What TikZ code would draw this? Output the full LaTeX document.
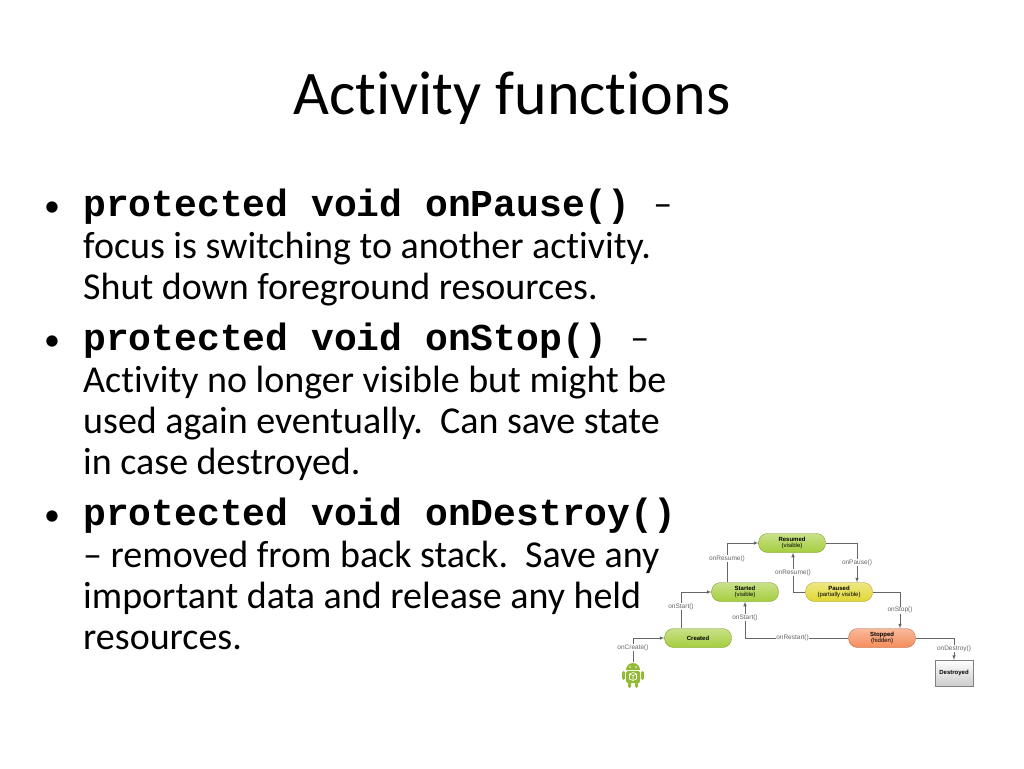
\documentclass[tikz,border=0pt]{standalone}
\usepackage{fontspec}
\setmainfont[Ligatures=NoCommon]{Carlito}
\newfontfamily\monof{Liberation Mono}
\newfontfamily\smallsans{Liberation Sans}
\begin{document}
\begin{tikzpicture}[x=1pt,y=-1pt,
  txt/.style={anchor=base west,inner sep=0pt,font=\fontsize{38}{38}\selectfont},
  code/.style={anchor=base west,inner sep=0pt,font=\fontsize{38}{38}\selectfont\monof\bfseries},
  st/.style={rounded corners=9pt,minimum width=67pt,minimum height=19pt,inner sep=0pt,align=center,draw=#1!70!black,line width=0.3pt,top color=#1!60!white,bottom color=#1,font=\smallsans\fontsize{6}{6.5}\selectfont},
  lab/.style={font=\smallsans\fontsize{6.5}{7}\selectfont,text=gray!80!black,fill=white,inner sep=0.5pt},
  ar/.style={draw=gray!80!black,line width=0.6pt,-latex}]
\useasboundingbox (0,0) rectangle (1024,768);
\definecolor{gr}{RGB}{165,205,60}
\definecolor{ye}{RGB}{225,215,50}
\definecolor{orr}{RGB}{245,140,90}
\node[anchor=center,font=\fontsize{62}{62}\selectfont] (title) at (512,98) {Activity functions};
\node[txt,font=\fontsize{32}{32}\selectfont] (b1) at (44,216) {•};
\node[txt,font=\fontsize{32}{32}\selectfont] (b2) at (44,350) {•};
\node[txt,font=\fontsize{32}{32}\selectfont] (b3) at (44,525) {•};
\node[code] (l1) at (83,216) {protected void onPause() \normalfont\fontsize{38}{38}\selectfont–};
\node[txt] (l2) at (83,258) {focus is switching to another activity.};
\node[txt] (l3) at (83,299) {Shut down foreground resources.};
\node[code] (l4) at (83,350) {protected void onStop() \normalfont\fontsize{38}{38}\selectfont–};
\node[txt] (l5) at (83,392) {Activity no longer visible but might be};
\node[txt] (l6) at (83,433) {used again eventually.\ \ Can save state};
\node[txt] (l7) at (83,474) {in case destroyed.};
\node[code] (l8) at (83,525) {protected void onDestroy()};
\node[txt] (l9) at (83,567) {– removed from back stack.\ \ Save any};
\node[txt] (l10) at (83,608) {important data and release any held};
\node[txt] (l11) at (83,649) {resources.};
% diagram
\node[st=gr] (res) at (792,543) {\textbf{Resumed}\\(visible)};
\node[st=gr] (sta) at (745,592) {\textbf{Started}\\(visible)};
\node[st=ye] (pau) at (839,592) {\textbf{Paused}\\(partially visible)};
\node[st=gr] (cre) at (698,638) {\textbf{Created}};
\node[st=orr] (sto) at (882,638) {\textbf{Stopped}\\(hidden)};
\node[draw=gray,line width=0.3pt,top color=white,bottom color=gray!40,minimum width=38pt,minimum height=26pt,inner sep=0pt,font=\smallsans\bfseries\fontsize{6}{6.5}\selectfont] (des) at (954,673) {Destroyed};
% android
\begin{scope}[shift={(633,673)}]
\fill[gr!90!black] (-7,-3) arc (180:360:7 and 7) -- cycle;
\fill[gr!90!black,rounded corners=1.5pt] (-7,-2) rectangle (7,10);
\fill[gr!90!black,rounded corners=1.5pt] (-11,-2) rectangle (-8,7);
\fill[gr!90!black,rounded corners=1.5pt] (8,-2) rectangle (11,7);
\fill[gr!90!black,rounded corners=1.5pt] (-5,9) rectangle (-2,15);
\fill[gr!90!black,rounded corners=1.5pt] (2,9) rectangle (5,15);
\fill[white] (-3,-6) circle (0.8) (3,-6) circle (0.8);
\draw[white,line width=0.6pt] (-3.5,1) -- (0,-0.5) -- (3.5,1) -- (3.5,6) -- (0,7.5) -- (-3.5,6) -- cycle (0,2.5) -- (0,7.5) (-3.5,1) -- (0,2.5) -- (3.5,1);
\end{scope}
\coordinate (andtop) at (633,662);
\draw[ar] (andtop) |- (cre.west) node[lab,pos=0.3] {onCreate()};
\draw[ar] (cre.north -| 681,0) |- (sta.west) node[lab,pos=0.3] {onStart()};
\draw[ar] (sta.north -| 727,0) |- (res.west) node[lab,pos=0.3] {onResume()};
\draw[ar] (res.east) -| (pau.north -| 857,0) node[lab,pos=0.75] {onPause()};
\draw[ar] (pau.west) -| (res.south -| 793,0) node[lab,pos=0.75] {onResume()};
\draw[ar] (pau.east) -| (sto.north -| 900,0) node[lab,pos=0.75] {onStop()};
\draw[ar] (sto.west) -| (sta.south -| 745,0) node[lab,pos=0.27] {onRestart()} node[lab,pos=0.78] {onStart()};
\draw[ar] (sto.east) -| (des.north) node[lab,pos=0.75] {onDestroy()};
\end{tikzpicture}
\end{document}
